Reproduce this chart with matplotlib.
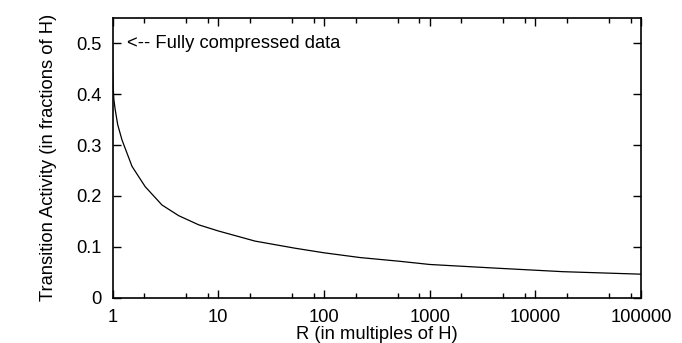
import matplotlib
matplotlib.use("Agg")
import matplotlib.pyplot as plt
from matplotlib.ticker import FixedLocator, NullFormatter

plt.rcParams['font.family'] = ['Liberation Sans', 'DejaVu Sans']

R = [1, 1.003, 1.012, 1.03, 1.06, 1.12, 1.23, 1.53, 2.04, 2.94, 4.23, 6.54, 10,
     22.3, 53.3, 100, 220, 525, 1000, 4300, 18300, 100000]
activity = [0.5, 0.45, 0.42, 0.39, 0.37, 0.34, 0.31, 0.258, 0.218, 0.182, 0.161,
            0.143, 0.131, 0.111, 0.097, 0.088, 0.0786, 0.0712, 0.0650, 0.0577,
            0.0508, 0.0459]

xticks = [1, 10, 100, 1000, 10000, 100000]
xtick_labels = ["1", "10", "100", "1000", "10000", "100000"]
yticks = [0, 0.1, 0.2, 0.3, 0.4, 0.5]
ytick_labels = ["0", "0.1", "0.2", "0.3", "0.4", "0.5"]
minor_mults = [2, 5, 8]

fig = plt.figure(figsize=(6.82, 3.43), dpi=100)
ax = fig.add_axes([112.5 / 682, 1 - 297.5 / 343, (641 - 112.5) / 682, (297.5 - 18) / 343])
ax.plot(R, activity, color='black', linewidth=0.9)
ax.set_xscale('log')
ax.set_xlim(1, 100000)
ax.set_ylim(0, 0.55)
ax.set_xticks(xticks)
ax.set_xticklabels(xtick_labels)
ax.xaxis.set_minor_locator(FixedLocator([d * m for d in xticks[:-1] for m in minor_mults]))
ax.xaxis.set_minor_formatter(NullFormatter())
ax.set_yticks(yticks)
ax.set_yticklabels(ytick_labels)
ax.tick_params(which='both', direction='in', top=True, right=True, labelsize=13.2, width=1)
ax.tick_params(which='major', length=6, pad=8)
ax.tick_params(which='minor', length=3.5)
for s in ax.spines.values():
    s.set_linewidth(1.2)
ax.text(1.37, 0.5, "<-- Fully compressed data", fontsize=13.2, va='center', ha='left')
ax.set_xlabel("R (in multiples of H)", fontsize=13.2, labelpad=0.5)
ax.set_ylabel("Transition Activity (in fractions of H)", fontsize=13.2, labelpad=14)
fig.savefig("out.png", dpi=100)
